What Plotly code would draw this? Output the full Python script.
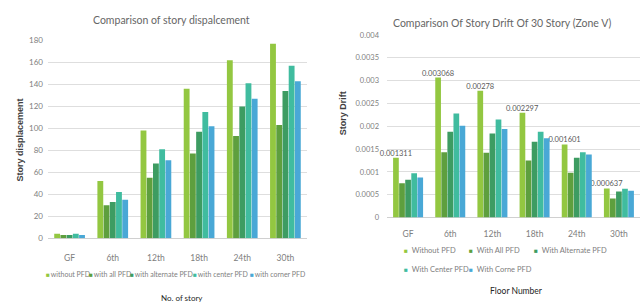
import plotly.graph_objects as go

W, H = 643, 308

# ---------------- data ----------------
stories = ["GF", "6th", "12th", "18th", "24th", "30th"]

disp_names = ["without PFD", "with all PFD", "with alternate PFD", "with center PFD", "with corner PFD"]
disp_without = [4, 52, 98, 136, 162, 177]
disp_all = [3, 30, 55, 77, 93, 103]
disp_alternate = [3, 33, 68, 97, 120, 134]
disp_center = [4, 42, 81, 115, 141, 157]
disp_corner = [3, 35, 71, 102, 127, 143]

drift_names = ["Without PFD", "With All PFD", "With Alternate PFD", "With Center PFD", "With Corne PFD"]
drift_without = [0.001311, 0.003068, 0.00278, 0.002297, 0.001601, 0.000637]
drift_all = [0.00075, 0.00143, 0.00142, 0.00125, 0.00098, 0.00042]
drift_alternate = [0.00083, 0.00188, 0.00184, 0.00166, 0.00131, 0.00057]
drift_center = [0.00097, 0.00228, 0.00215, 0.00188, 0.00143, 0.00063]
drift_corner = [0.00088, 0.00201, 0.00194, 0.00174, 0.00138, 0.00059]

colors = ["#93C741", "#5E9F3E", "#3D9C62", "#40BC9F", "#49A8D6"]

FONT = "Lato, Roboto, sans-serif"
GREY = "#808080"

def px(x):
    return x / W

def py(y):
    return (H - y) / H

fig = go.Figure()

disp_series = [disp_without, disp_all, disp_alternate, disp_center, disp_corner]
for name, vals, c in zip(disp_names, disp_series, colors):
    fig.add_trace(go.Bar(x=stories, y=vals, name=name, marker_color=c,
                         marker_line_width=0, xaxis="x", yaxis="y", showlegend=False))

drift_series = [drift_without, drift_all, drift_alternate, drift_center, drift_corner]
for i, (name, vals, c) in enumerate(zip(drift_names, drift_series, colors)):
    kw = {}
    if i == 0:
        kw = dict(text=[str(v) for v in vals], textposition="outside",
                  textfont=dict(family=FONT, size=7.5, color="#595959"),
                  constraintext="none", cliponaxis=False)
    fig.add_trace(go.Bar(x=stories, y=vals, name=name, marker_color=c,
                         marker_line_width=0, xaxis="x2", yaxis="y2", showlegend=False, **kw))

grid = dict(showgrid=True, gridcolor="#dedede", gridwidth=0.8, zeroline=True,
            zerolinecolor="#d0d0d0", zerolinewidth=1, showline=False, ticks="")

fig.update_layout(
    width=W, height=H,
    margin=dict(l=0, r=0, t=0, b=0),
    paper_bgcolor="white", plot_bgcolor="white",
    barmode="group", bargap=0.28, bargroupgap=0.06,
    font=dict(family=FONT, color=GREY),
    xaxis=dict(domain=[px(48), px(307)], anchor="y", showgrid=False, ticks="",
               tickfont=dict(family=FONT, size=8.5, color=GREY), ticklabelstandoff=13),
    yaxis=dict(domain=[py(241), py(36.7)], anchor="x", range=[0, 180], dtick=20,
               tickfont=dict(family=FONT, size=8, color=GREY), ticklabelstandoff=4, **grid),
    xaxis2=dict(domain=[px(387), px(640)], anchor="y2", showgrid=False, ticks="",
                tickfont=dict(family=FONT, size=8.5, color=GREY), ticklabelstandoff=10),
    yaxis2=dict(domain=[py(219.7), py(31)], anchor="x2", range=[0, 0.004], dtick=0.0005,
                tickfont=dict(family=FONT, size=7.5, color=GREY), ticklabelstandoff=7, **grid),
)

def note(text, x, y, size, color, xanchor="center", family=FONT, angle=0):
    return dict(text=text, x=px(x), y=py(y), xref="paper", yref="paper",
                xanchor=xanchor, yanchor="middle", showarrow=False, textangle=angle,
                font=dict(family=family, size=size, color=color))

ann = []
ann.append(note("Comparison of story dispalcement", 171, 15, 10.5, "#666666"))
ann.append(note("Comparison Of Story Drift Of 30 Story (Zone V)", 502, 19, 10.5, "#666666"))
ann.append(note("<b>Story displacement</b>", 20, 140, 9, "#404040",
                family="Liberation Sans, Arial, sans-serif", angle=-90))
ann.append(note("<b>Story Drift</b>", 343, 112, 9, "#404040",
                family="Liberation Sans, Arial, sans-serif", angle=-90))
ann.append(note("No. of story", 182, 303, 8, "#262626"))
ann.append(note("Floor Number", 516, 296, 8.5, "#262626"))

left_leg_x = [44, 87, 128, 191, 248]
for name, c, x in zip(disp_names, colors, left_leg_x):
    ann.append(note(f"<span style='color:{c};font-size:6.5px'>■</span>\u2009{name}", x, 278, 7, GREY,
                    xanchor="left"))
right_leg_pos = [(402, 254), (467, 254), (532, 254), (402, 273), (467, 273)]
for name, c, (x, y) in zip(drift_names, colors, right_leg_pos):
    ann.append(note(f"<span style='color:{c};font-size:6.5px'>■</span>\u00a0 {name}", x, y, 7.5, GREY,
                    xanchor="left"))

fig.update_layout(annotations=ann)
fig.write_html("out.html", config={"displayModeBar": False},
               post_script="document.body.style.margin='0';")
